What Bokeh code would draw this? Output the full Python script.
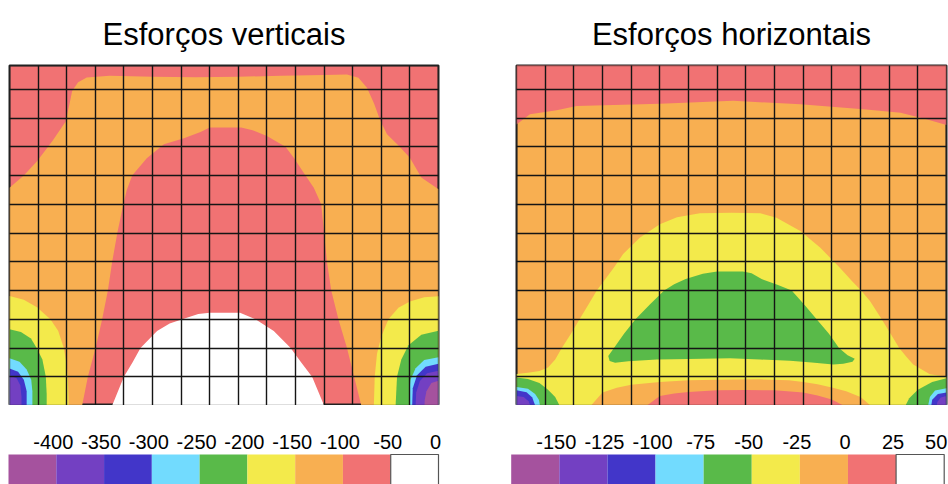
from bokeh.plotting import figure
from bokeh.models import Range1d, FixedTicker, Grid, BoxAnnotation
from bokeh.layouts import column, row
from bokeh.core.properties import value
from bokeh.embed import file_html
from bokeh.resources import INLINE

FONT = "Liberation Sans"

# colour classes, lowest to highest
CLASS_COLORS = ["#A5529E", "#7340C2", "#4236C9", "#72DBFE", "#59BA49",
                "#F3EA4B", "#F8AF51", "#F17273", "#FFFFFF"]
PURPLE, VIOLET, BLUE, LBLUE, GREEN, YELLOW, ORANGE, RED, WHITE = range(9)

# mesh of the section: 15 x 12 cells (top row partly shown)
MESH_X = list(range(1, 15))
MESH_Y = list(range(1, 12))
DOMAIN_W = 15
DOMAIN_TOP = 11.83

# ---------------- vertical stresses ----------------
V_TITLE = "Esforços verticais"
V_EDGES = [-450, -400, -350, -300, -250, -200, -150, -100, -50, 0]
V_BACKGROUND = RED

V_ORANGE_X = [0, 0.5, 0.97, 1.5, 1.96, 2.1, 2.19, 2.4, 2.7, 3.5, 5.0, 6.5, 8.0, 9.5, 11.0, 11.8,
              12.2, 12.5, 12.75, 12.97, 13.2, 13.6, 14.0, 14.4, 15, 15,
              12.3, 12.05, 11.8, 11.5, 11.25, 11.1, 11.0, 10.9, 10.64, 10.35, 9.94, 9.65, 9.0, 8.5,
              8.1, 7.0, 6.68, 6.1, 5.4, 4.8, 4.29, 4.1, 3.98, 3.77, 3.59, 3.44, 3.24, 3.01, 2.74,
              2.54, 0]
V_ORANGE_Y = [7.58, 8.0, 8.51, 9.2, 9.87, 10.5, 10.94, 11.25, 11.41, 11.47, 11.44, 11.42, 11.44,
              11.47, 11.5, 11.52, 11.4, 11.06, 10.5, 9.9, 9.44, 9.05, 8.62, 7.93, 7.52, 0,
              0, 1, 2, 3, 4, 5, 6, 7, 7.58, 8.0, 8.62, 9.0, 9.38, 9.58, 9.67, 9.67, 9.52, 9.3,
              9.09, 8.6, 8.0, 7.5, 7.0, 6, 5, 4, 3, 2, 1, 0, 0]

V_WHITE_X = [3.59, 4.0, 4.3, 4.58, 5.16, 5.6, 6.04, 6.6, 7.0, 8.06, 8.6, 9.24, 9.83, 10.2,
             10.58, 11.0]
V_WHITE_Y = [0, 1.0, 1.5, 2.0, 2.59, 2.85, 3.0, 3.18, 3.23, 3.23, 3.0, 2.59, 2.0, 1.5, 1.0, 0]

V_L_YELLOW_X = [0, 0, 0.5, 0.96, 1.43, 1.7, 1.9, 2.0, 2.04, 2.07]
V_L_YELLOW_Y = [0, 3.81, 3.68, 3.42, 3.0, 2.6, 2.0, 1.4, 1.0, 0]
V_L_GREEN_X = [0, 0, 0.4, 0.75, 0.95, 1.15, 1.27, 1.3, 1.3]
V_L_GREEN_Y = [0, 2.65, 2.56, 2.33, 2.0, 1.6, 1.0, 0.4, 0]
V_L_LBLUE_X = [0, 0, 0.35, 0.6, 0.76, 0.8, 0.8]
V_L_LBLUE_Y = [0, 1.64, 1.52, 1.25, 0.9, 0.5, 0]
V_L_BLUE_X = [0, 0, 0.3, 0.5, 0.6, 0.6]
V_L_BLUE_Y = [0, 1.29, 1.17, 0.9, 0.5, 0]
V_L_VIOLET_X = [0, 0, 0.25, 0.38, 0.42, 0.42]
V_L_VIOLET_Y = [0, 1.05, 0.95, 0.7, 0.3, 0]

V_R_YELLOW_X = [15, 15, 14.5, 14.0, 13.6, 13.25, 13.0, 12.85, 12.77, 12.74]
V_R_YELLOW_Y = [0, 3.8, 3.77, 3.62, 3.4, 3.0, 2.4, 1.8, 1.0, 0]
V_R_GREEN_X = [15, 15, 14.4, 13.95, 13.7, 13.55, 13.5]
V_R_GREEN_Y = [0, 2.6, 2.46, 2.1, 1.6, 1.0, 0]
V_R_LBLUE_X = [15, 15, 14.5, 14.2, 14.02, 13.97, 13.97]
V_R_LBLUE_Y = [0, 1.68, 1.58, 1.3, 0.9, 0.4, 0]
V_R_BLUE_X = [15, 15, 14.55, 14.25, 14.1, 14.08]
V_R_BLUE_Y = [0, 1.45, 1.35, 1.05, 0.6, 0]
V_R_VIOLET_X = [15, 15, 14.6, 14.35, 14.22, 14.2]
V_R_VIOLET_Y = [0, 1.21, 1.12, 0.85, 0.45, 0]
V_R_PURPLE_X = [15, 15, 14.75, 14.58, 14.52, 14.51]
V_R_PURPLE_Y = [0, 0.86, 0.78, 0.5, 0.2, 0]

# ---------------- horizontal stresses ----------------
H_TITLE = "Esforços horizontais"
H_EDGES = [-175, -150, -125, -100, -75, -50, -25, 0, 25, 50]
H_BACKGROUND = ORANGE

H_RED_TOP_X = [0, 0, 0.47, 1.4, 2.1, 5.0, 7.56, 9.9, 12.2, 13.4, 14.3, 15, 15]
H_RED_TOP_Y = [12, 9.78, 10.13, 10.27, 10.42, 10.5, 10.6, 10.48, 10.3, 10.19, 9.96, 9.76, 12]

H_YELLOW_X = [0, 0, 0.4, 0.8, 1.1, 1.35, 1.58, 1.9, 2.2, 2.5, 2.8, 3.05, 3.4, 3.72, 4.3, 5.0,
              5.6, 6.4, 7.5, 8.5, 9.07, 9.9, 10.6, 11.28, 11.7, 12.02, 12.33, 12.74, 13.05,
              13.35, 13.6, 13.84, 14.42, 15, 15]
H_YELLOW_Y = [0, 1.1, 1.14, 1.2, 1.32, 1.6, 2.0, 2.5, 3.0, 3.5, 4.0, 4.33, 4.8, 5.27, 5.84,
              6.31, 6.55, 6.69, 6.71, 6.69, 6.53, 6.07, 5.49, 4.79, 4.33, 4.0, 3.64, 3.0, 2.5,
              2.0, 1.7, 1.43, 1.09, 1.0, 0]

H_GREEN_X = [3.2, 3.4, 3.75, 4.15, 4.66, 5.15, 5.5, 5.9, 6.5, 7.0, 7.9, 8.2, 8.55, 9.1, 9.6,
             10.05, 10.47, 10.9, 11.25, 11.55, 11.8, 11.72, 11.4, 11.05, 10.3, 9.54, 8.5, 7.45,
             6.0, 4.89, 3.9, 3.44, 3.25]
H_GREEN_Y = [1.72, 2.0, 2.5, 3.0, 3.52, 4.0, 4.22, 4.4, 4.58, 4.66, 4.66, 4.6, 4.4, 4.2, 4.0,
             3.5, 3.0, 2.5, 2.0, 1.75, 1.63, 1.52, 1.45, 1.43, 1.5, 1.56, 1.6, 1.64, 1.62, 1.6,
             1.54, 1.49, 1.55]

H_ORANGE_X = [2.6, 3.0, 3.5, 4.0, 5.0, 6.0, 7.0, 8.5, 9.5, 10.0, 10.5, 11.0, 11.5, 12.0, 12.35]
H_ORANGE_Y = [0, 0.45, 0.62, 0.72, 0.82, 0.88, 0.9, 0.91, 0.88, 0.82, 0.74, 0.63, 0.5, 0.3, 0]
H_RED_X = [4.55, 5.0, 5.5, 6.0, 7.0, 8.0, 9.0, 10.0, 10.5, 11.0, 11.4]
H_RED_Y = [0, 0.33, 0.42, 0.47, 0.53, 0.54, 0.53, 0.45, 0.35, 0.21, 0]

H_L_GREEN_X = [0, 0, 0.4, 0.8, 1.1, 1.35, 1.5]
H_L_GREEN_Y = [0, 0.97, 0.92, 0.78, 0.55, 0.3, 0]
H_L_LBLUE_X = [0, 0, 0.4, 0.65, 0.78, 0.82]
H_L_LBLUE_Y = [0, 0.64, 0.58, 0.4, 0.2, 0]
H_L_BLUE_X = [0, 0, 0.35, 0.55, 0.65]
H_L_BLUE_Y = [0, 0.53, 0.46, 0.28, 0]
H_L_VIOLET_X = [0, 0, 0.25, 0.42, 0.48]
H_L_VIOLET_Y = [0, 0.33, 0.3, 0.15, 0]

H_R_GREEN_X = [15, 15, 14.5, 14.0, 13.7, 13.57]
H_R_GREEN_Y = [0, 0.95, 0.82, 0.55, 0.25, 0]
H_R_LBLUE_X = [15, 15, 14.6, 14.42, 14.36]
H_R_LBLUE_Y = [0, 0.6, 0.52, 0.3, 0]
H_R_BLUE_X = [15, 15, 14.7, 14.5, 14.47]
H_R_BLUE_Y = [0, 0.45, 0.4, 0.2, 0]
H_R_VIOLET_X = [15, 15, 14.8, 14.68, 14.66]
H_R_VIOLET_Y = [0, 0.33, 0.28, 0.12, 0]

V_REGIONS = [
    (ORANGE, V_ORANGE_X, V_ORANGE_Y),
    (WHITE, V_WHITE_X, V_WHITE_Y),
    (YELLOW, V_L_YELLOW_X, V_L_YELLOW_Y), (GREEN, V_L_GREEN_X, V_L_GREEN_Y),
    (LBLUE, V_L_LBLUE_X, V_L_LBLUE_Y), (BLUE, V_L_BLUE_X, V_L_BLUE_Y),
    (VIOLET, V_L_VIOLET_X, V_L_VIOLET_Y),
    (YELLOW, V_R_YELLOW_X, V_R_YELLOW_Y), (GREEN, V_R_GREEN_X, V_R_GREEN_Y),
    (LBLUE, V_R_LBLUE_X, V_R_LBLUE_Y), (BLUE, V_R_BLUE_X, V_R_BLUE_Y),
    (VIOLET, V_R_VIOLET_X, V_R_VIOLET_Y), (PURPLE, V_R_PURPLE_X, V_R_PURPLE_Y),
]
H_REGIONS = [
    (RED, H_RED_TOP_X, H_RED_TOP_Y),
    (YELLOW, H_YELLOW_X, H_YELLOW_Y),
    (GREEN, H_GREEN_X, H_GREEN_Y),
    (ORANGE, H_ORANGE_X, H_ORANGE_Y), (RED, H_RED_X, H_RED_Y),
    (GREEN, H_L_GREEN_X, H_L_GREEN_Y), (LBLUE, H_L_LBLUE_X, H_L_LBLUE_Y),
    (BLUE, H_L_BLUE_X, H_L_BLUE_Y), (VIOLET, H_L_VIOLET_X, H_L_VIOLET_Y),
    (GREEN, H_R_GREEN_X, H_R_GREEN_Y), (LBLUE, H_R_LBLUE_X, H_R_LBLUE_Y),
    (BLUE, H_R_BLUE_X, H_R_BLUE_Y), (VIOLET, H_R_VIOLET_X, H_R_VIOLET_Y),
]


def contour_panel(title, background, regions, frame_w, left, right):
    p = figure(frame_width=frame_w, frame_height=340,
               x_range=Range1d(0, DOMAIN_W), y_range=Range1d(0, DOMAIN_TOP),
               x_axis_location=None, y_axis_location=None,
               toolbar_location=None, output_backend="svg",
               min_border_left=left, min_border_right=right,
               min_border_top=65, min_border_bottom=0,
               background_fill_color=CLASS_COLORS[background],
               border_fill_color="white")
    p.grid.visible = False
    p.patches(xs=[r[1] for r in regions], ys=[r[2] for r in regions],
              fill_color=[CLASS_COLORS[r[0]] for r in regions],
              line_color=None)
    p.add_layout(Grid(dimension=0, ticker=FixedTicker(ticks=MESH_X),
                      grid_line_color="#151515", grid_line_width=1.4,
                      level="overlay"))
    p.add_layout(Grid(dimension=1, ticker=FixedTicker(ticks=MESH_Y),
                      grid_line_color="#151515", grid_line_width=1.4,
                      level="overlay"))
    p.add_layout(BoxAnnotation(fill_alpha=0, line_color="#222222", line_width=2,
                               level="overlay"))
    p.outline_line_color = "#222222"
    p.outline_line_width = 2
    p.title.text = title
    p.title.align = "center"
    p.title.text_font = FONT
    p.title.text_font_size = "31px"
    p.title.text_font_style = "normal"
    p.title.text_color = "black"
    p.title.standoff = 28
    return p


def legend_bar(edges, width, bar_offset, bar_width, label_shift):
    span = edges[-1] - edges[0]
    per_px = span / bar_width
    x0 = edges[0] - bar_offset * per_px
    x1 = x0 + width * per_px
    c = figure(width=width, height=79, x_range=Range1d(x0, x1), y_range=Range1d(0, 79),
               x_axis_location=None, y_axis_location=None,
               toolbar_location=None, output_backend="svg",
               min_border=0, outline_line_color=None)
    c.grid.visible = False
    n = len(edges) - 1
    c.quad(left=edges[:-1], right=edges[1:], bottom=-2, top=30,
           fill_color=CLASS_COLORS, line_color="#555555",
           line_alpha=[0] * (n - 1) + [1], line_width=1.2)
    ticks = edges[1:]
    c.text(x=ticks, y=[43] * n, text=[str(t) for t in ticks],
           x_offset=label_shift,
           text_align="center", text_baseline="alphabetic",
           text_font=value(FONT), text_font_size="20px", text_color="black")
    return c


p1 = contour_panel(V_TITLE, V_BACKGROUND, V_REGIONS, 429, 9, 39)
p2 = contour_panel(H_TITLE, H_BACKGROUND, H_REGIONS, 430, 39, 2)
c1 = legend_bar(V_EDGES, 503, 8, 430, [-3] * 9)
c2 = legend_bar(H_EDGES, 445, 7.7, 433, [-3] * 8 + [-8])

layout = column(row(p1, p2), row(c1, c2))
open("out.html", "w").write(file_html(layout, INLINE))
